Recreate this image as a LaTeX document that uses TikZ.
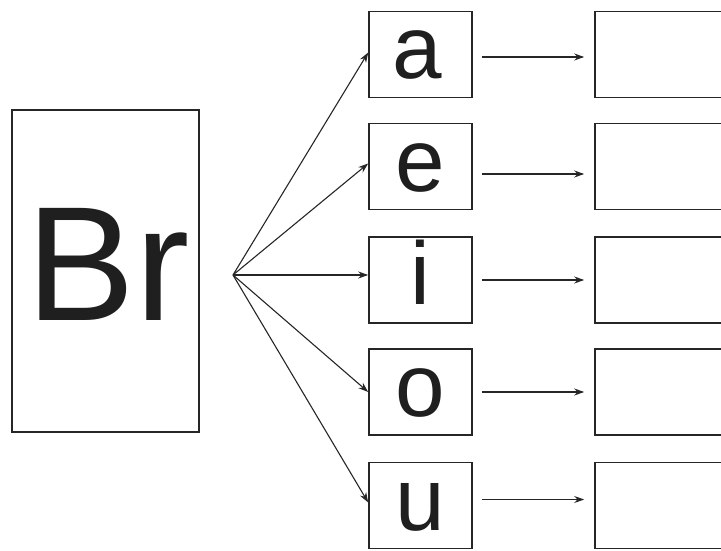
\documentclass[tikz,border=0pt]{standalone}
\usepackage{fontspec}
\setmainfont{Liberation Sans}
\usetikzlibrary{arrows.meta,calc}
\begin{document}
\begin{tikzpicture}[x=1pt,y=-1pt,
  box/.style={draw=black!85,line width=1.6pt,inner sep=0pt},
  vbox/.style={box,minimum width=103pt,minimum height=86pt},
  rbox/.style={box,minimum width=150pt,minimum height=86pt},
  letter/.style={anchor=base,inner sep=0pt,font=\fontsize{89}{89}\selectfont,text=black!88},
  arr/.style={draw=black!85,line width=1.1pt,-{Stealth[length=10pt,width=7pt]}}]
\useasboundingbox (0,0) rectangle (721,551);
\clip (0,0) rectangle (721,551);
% Br box
\node[box,minimum width=187pt,minimum height=322pt] (br) at (105.5,271) {};
\node[anchor=base,inner sep=0pt,font=\fontsize{163}{163}\selectfont,text=black!88] (brt) at (108,320) {Br};
\coordinate (f) at (233,275);
% vowel boxes
\foreach \n/\y in {a/54.5,e/166.5,i/280,o/392,u/505.5}{
  \node[vbox] (\n) at (420.5,\y) {};
  \node[rbox] (r\n) at (670,\y) {};
}
\node[letter] (ta) at (417,78.5) {a};
\node[letter] (te) at (420,191.5) {e};
\node[letter] (ti) at (420,304) {i};
\node[letter] (to) at (420,416) {o};
\node[letter] (tu) at (420,530) {u};
% fan
\draw[arr] (f) -- ([yshift=2]a.west);
\draw[arr] (f) -- ([yshift=3]e.west);
\draw[arr] (f) -- (f -| i.west);
\draw[arr] (f) -- (o.west);
\draw[arr] (f) -- ([yshift=3]u.west);
% horizontal arrows
\draw[arr] ($(a.east)+(9,2.5)$) -- ($(ra.west)+(-10,2.5)$);
\draw[arr] ($(e.east)+(9,7.5)$) -- ($(re.west)+(-10,7.5)$);
\draw[arr] ($(i.east)+(9,0)$) -- ($(ri.west)+(-10,0)$);
\draw[arr] ($(o.east)+(9,0)$) -- ($(ro.west)+(-10,0)$);
\draw[arr] ($(u.east)+(9,-6)$) -- ($(ru.west)+(-10,-6)$);
\end{tikzpicture}
\end{document}
